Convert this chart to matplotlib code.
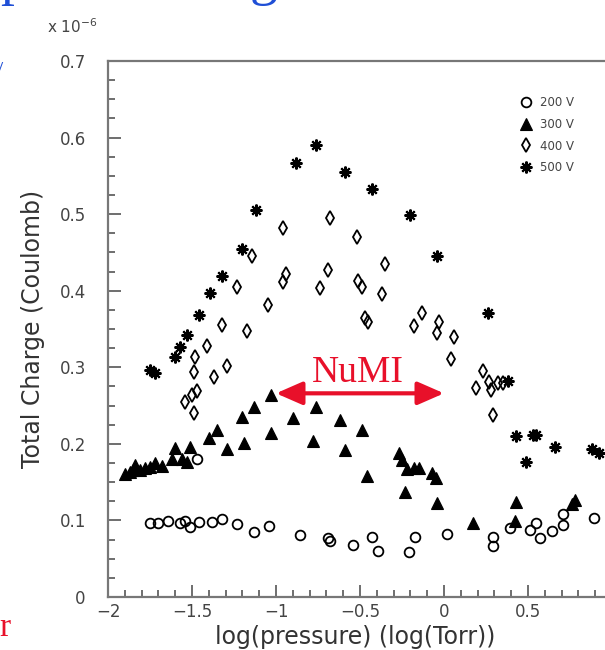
import matplotlib
matplotlib.use("Agg")
import matplotlib.pyplot as plt
from matplotlib.ticker import MultipleLocator

# log10 pressure (Torr) vs total charge (x 1e-6 C) for four voltages
x200 = [-1.75, -1.70, -1.64, -1.57, -1.54, -1.51, -1.46, -1.38, -1.32, -1.23, -1.13, -1.04,
        -0.86, -0.69, -0.68, -1.47, -0.54, -0.43, -0.39, -0.21, -0.17, 0.02, 0.29, 0.29,
        0.39, 0.51, 0.55, 0.57, 0.64, 0.71, 0.71, 0.89]
y200 = [0.097, 0.097, 0.099, 0.097, 0.099, 0.091, 0.098, 0.098, 0.102, 0.095, 0.085, 0.093,
        0.081, 0.077, 0.073, 0.180, 0.068, 0.078, 0.060, 0.059, 0.078, 0.082, 0.078, 0.067,
        0.090, 0.087, 0.097, 0.077, 0.086, 0.094, 0.108, 0.103]

x300 = [-1.90, -1.87, -1.85, -1.84, -1.81, -1.78, -1.75, -1.72, -1.68, -1.62, -1.56, -1.53,
        -1.60, -1.51, -1.40, -1.35, -1.29, -1.19, -1.20, -1.13, -1.03, -1.03, -0.90, -0.78,
        -0.76, -0.62, -0.59, -0.49, -0.46, -0.27, -0.25, -0.22, -0.18, -0.15, -0.07, -0.05,
        -0.23, -0.04, 0.17, 0.43, 0.42, 0.78, 0.76]
y300 = [0.161, 0.163, 0.166, 0.172, 0.166, 0.168, 0.170, 0.175, 0.171, 0.180, 0.180, 0.176,
        0.195, 0.196, 0.208, 0.218, 0.193, 0.201, 0.235, 0.248, 0.264, 0.214, 0.234, 0.204,
        0.248, 0.231, 0.192, 0.218, 0.158, 0.188, 0.179, 0.167, 0.168, 0.168, 0.162, 0.155,
        0.137, 0.123, 0.097, 0.124, 0.099, 0.127, 0.121]

x400 = [-1.49, -1.54, -1.50, -1.47, -1.49, -1.48, -1.37, -1.41, -1.29, -1.32, -1.17, -1.23,
        -1.05, -1.14, -0.96, -0.94, -0.96, -0.74, -0.69, -0.68, -0.52, -0.35, -0.51, -0.49,
        -0.37, -0.47, -0.45, -0.13, -0.18, -0.03, -0.04, 0.06, 0.04, 0.23, 0.19, 0.27,
        0.28, 0.32, 0.35, 0.29]
y400 = [0.240, 0.255, 0.264, 0.269, 0.294, 0.313, 0.287, 0.328, 0.302, 0.355, 0.347, 0.405,
        0.381, 0.445, 0.411, 0.422, 0.482, 0.403, 0.427, 0.495, 0.470, 0.435, 0.413, 0.405,
        0.396, 0.364, 0.359, 0.371, 0.354, 0.359, 0.345, 0.339, 0.311, 0.295, 0.273, 0.281,
        0.270, 0.279, 0.279, 0.238]

x500 = [-1.75, -1.72, -1.60, -1.57, -1.53, -1.46, -1.39, -1.32, -1.20, -1.12, -0.88, -0.76,
        -0.59, -0.43, -0.20, -0.04, 0.26, 0.38, 0.43, 0.53, 0.55, 0.66, 0.49, 0.88, 0.92]
y500 = [0.296, 0.292, 0.313, 0.326, 0.342, 0.368, 0.397, 0.419, 0.454, 0.505, 0.567, 0.590,
        0.555, 0.533, 0.499, 0.445, 0.371, 0.282, 0.210, 0.211, 0.211, 0.196, 0.176, 0.193,
        0.188]

numi_x = [-1.0, 0.0]
numi_y = 0.266

fig = plt.figure(figsize=(6.05, 6.5), dpi=100)
# right edge of the frame runs a little past the figure edge
ax = fig.add_axes([108/605, 53/650, 504/605, 536/650])

ax.plot(x200, y200, ls="none", marker="o", ms=7, mfc="none", mec="black", mew=1.3, label="200 V")
ax.plot(x300, y300, ls="none", marker="^", ms=8, mfc="black", mec="black", mew=0.8, label="300 V")
ax.plot(x400, y400, ls="none", marker="d", ms=7.5, mfc="none", mec="black", mew=1.3, label="400 V")
ax.plot(x500, y500, ls="none", marker=(8, 2, 0), ms=8.5, mec="black", mew=1.5, label="500 V")

ax.set_xlim(-2, 1)
ax.set_ylim(0, 0.7)
ax.xaxis.set_minor_locator(MultipleLocator(0.1))
ax.yaxis.set_minor_locator(MultipleLocator(0.025))
ax.set_xticks([-2, -1.5, -1, -0.5, 0, 0.5, 1])
ax.set_xticklabels(["\u22122", "\u22121.5", "\u22121", "\u22120.5", "0", "0.5", ""])
ax.set_yticks([0, 0.1, 0.2, 0.3, 0.4, 0.5, 0.6, 0.7])
ax.set_yticklabels(["0", "0.1", "0.2", "0.3", "0.4", "0.5", "0.6", "0.7"])

tc = "#444444"
ax.tick_params(which="both", direction="in", colors="#555555", labelcolor=tc, width=1.2)
ax.tick_params(which="major", length=9, labelsize=12)
ax.tick_params(which="minor", length=5)
ax.tick_params(axis="y", pad=16)
ax.tick_params(axis="x", pad=4)
for s in ax.spines.values():
    s.set_color("#777777")
    s.set_linewidth(1.6)

ax.set_xlabel("log(pressure) (log(Torr))", fontsize=17, color="#333333")
ax.xaxis.set_label_coords(0.49, -0.052)
ax.set_ylabel("Total Charge (Coulomb)", fontsize=17, color="#333333")
ax.yaxis.set_label_coords(-0.125, 0.5)

fig.text(47/605, 1 - 33/650, "x 10$^{-6}$", fontsize=11, color=tc, ha="left", va="baseline")

ax.legend(loc="upper left", bbox_to_anchor=(514/605, 1 - 90/650), bbox_transform=fig.transFigure,
          frameon=False, fontsize=8.5, handlelength=1.0, handletextpad=0.7,
          labelspacing=0.75, borderpad=0, labelcolor=tc)

# NuMI operating range
ax.annotate("", xy=(numi_x[0], numi_y), xytext=(numi_x[1], numi_y),
            arrowprops=dict(arrowstyle="<|-|>,head_length=1.6,head_width=0.7",
                            color="#e8102a", lw=3, shrinkA=0, shrinkB=0))
ax.text(sum(numi_x) / 2 - 0.01, numi_y + 0.004, "NuMI", fontsize=27, color="#e8102a",
        family="Liberation Serif", ha="center", va="bottom")

# pieces of surrounding slide text
fig.text(0.0, 1.0 + 6/650, "p", fontsize=40, color="#1f4fd6", family="Liberation Serif",
         ha="left", va="baseline")
fig.text(250/605, 1.0 + 6/650, "g", fontsize=40, color="#1f4fd6", family="Liberation Serif",
         ha="left", va="baseline")
fig.text(-3/605, 1 - 76/650, "/", fontsize=16, color="#1f4fd6", family="Liberation Serif",
         ha="left", va="baseline")
fig.text(-1/605, 1 - 636/650, "r", fontsize=24, color="#e8102a", family="Liberation Serif",
         ha="left", va="baseline")

fig.savefig("out.png", dpi=100)
